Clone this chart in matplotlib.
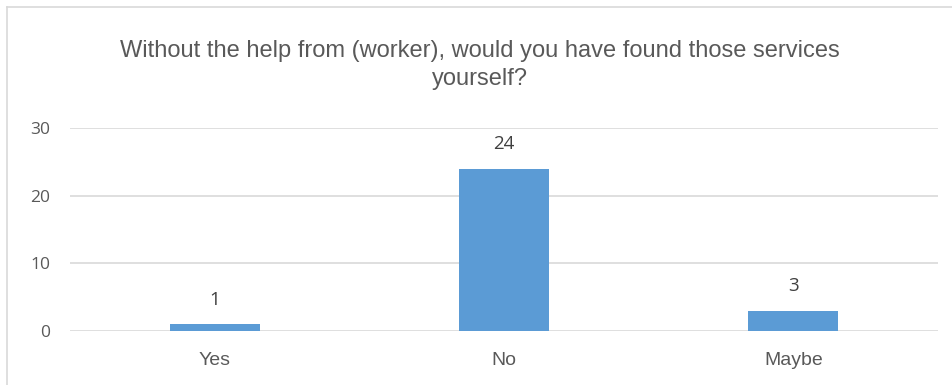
import matplotlib
matplotlib.use("Agg")
import matplotlib.pyplot as plt
from matplotlib.lines import Line2D
from matplotlib import font_manager

categories = ["Yes", "No", "Maybe"]
values = [1, 24, 3]
yticks = [0, 10, 20, 30]
title = "Without the help from (worker), would you have found those services\nyourself?"

names = {f.name for f in font_manager.fontManager.ttflist}
narrow = "Liberation Sans Narrow" if "Liberation Sans Narrow" in names else "Liberation Sans"

W, H = 953, 385
fig = plt.figure(figsize=(W / 100, H / 100), dpi=100)
ax = fig.add_axes([70 / W, 1 - 331 / H, (938 - 70) / W, (331 - 128) / H])

bars = ax.bar(range(len(categories)), values, width=0.31, color="#5B9BD5", zorder=3)
ax.set_xlim(-0.5, len(categories) - 0.5)
ax.set_ylim(0, 30)
ax.set_yticks(yticks)
ax.set_xticks(range(len(categories)))
ax.set_xticklabels(categories, fontfamily=narrow, fontsize=14, color="#595959")
ax.set_yticklabels([str(t) for t in yticks], fontfamily="Open Sans", fontsize=12.5, color="#595959")
ax.tick_params(length=0)
ax.tick_params(axis="y", pad=14)
ax.tick_params(axis="x", pad=15)
ax.grid(axis="y", color="#D9D9D9", linewidth=1.2, zorder=0)
for s in ax.spines.values():
    s.set_visible(False)

for i, v in enumerate(values):
    ax.annotate(str(v), (i, v), xytext=(0, 11), textcoords="offset points",
                ha="center", va="bottom", fontsize=13.5, color="#404040", fontfamily="Open Sans")

fig.text(480 / W, 1 - 65 / H, title, ha="center", va="center", fontfamily=narrow,
         fontsize=17, color="#595959", linespacing=1.38)

# outer chart border (left and top visible)
fig.add_artist(Line2D([6.5 / W, 6.5 / W], [0, 1 - 6.5 / H], transform=fig.transFigure, color="#D9D9D9", lw=1.2))
fig.add_artist(Line2D([6.5 / W, 1], [1 - 6.5 / H, 1 - 6.5 / H], transform=fig.transFigure, color="#D9D9D9", lw=1.2))

fig.savefig("out.png", dpi=100)
